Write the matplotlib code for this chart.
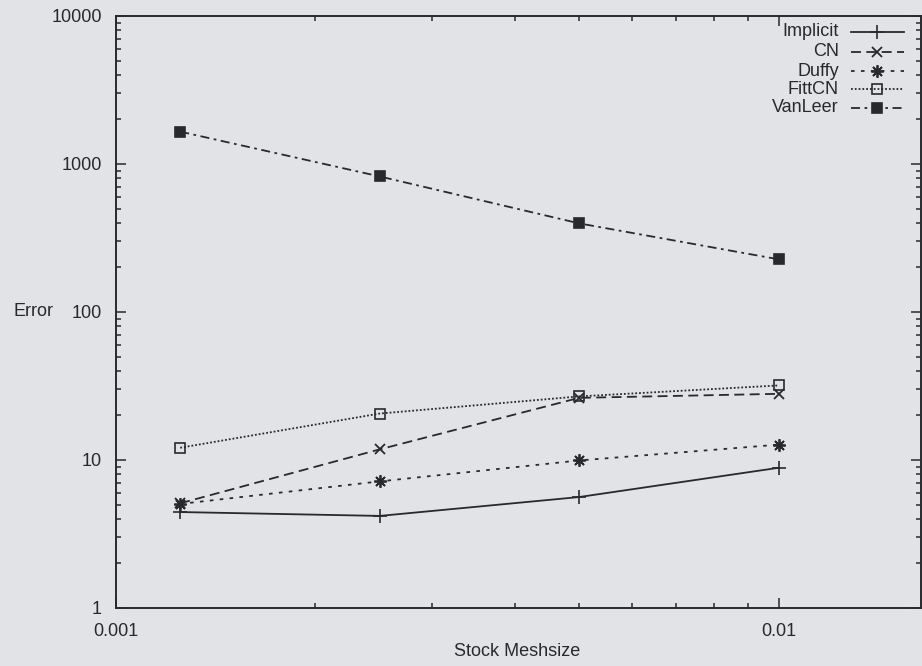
import matplotlib
matplotlib.use("Agg")
import matplotlib.pyplot as plt
from matplotlib.lines import Line2D
from matplotlib.ticker import LogLocator, FixedLocator, NullFormatter

# Stock mesh sizes and error of each scheme
meshsize = [0.00125, 0.0025, 0.005, 0.01]
implicit = [4.45, 4.19, 5.62, 8.86]
cn = [5.1, 11.8, 26.3, 28.0]
duffy = [5.05, 7.17, 9.93, 12.7]
fittcn = [12.1, 20.6, 26.9, 31.9]
vanleer = [1655, 824, 397, 227]

labels = ["Implicit", "CN", "Duffy", "FittCN", "VanLeer"]
series = [implicit, cn, duffy, fittcn, vanleer]

ink = "#29292c"
bg = "#e1e3e6"
plt.rcParams["font.family"] = ["Liberation Sans", "DejaVu Sans"]
plt.rcParams["font.size"] = 13

lw = 1.3
styles = [
    dict(linestyle="-", marker="+", markersize=10, markeredgewidth=1.2,
         markerfacecolor=ink),
    dict(linestyle=(0, (5.5, 3)), marker="x", markersize=7, markeredgewidth=1.3,
         markerfacecolor=ink),
    dict(linestyle=(0, (2, 3.5)), marker=(8, 2, 0), markersize=9,
         markeredgewidth=1.3, markerfacecolor=ink),
    dict(linestyle=(0, (1, 1.1)), marker="s", markersize=7, markeredgewidth=1.2,
         markerfacecolor="none"),
    dict(linestyle=(0, (5, 2.5, 1.5, 2.5)), marker="s", markersize=7,
         markeredgewidth=1.2, markerfacecolor=ink),
]

W, H = 922, 666
fig = plt.figure(figsize=(W / 100, H / 100), dpi=100, facecolor=bg)
left, right, top, bottom = 116, 921, 16, 608
ax = fig.add_axes([left / W, 1 - bottom / H, (right - left) / W, (bottom - top) / H])
ax.set_facecolor(bg)

for ys, st in zip(series, styles):
    ax.plot(meshsize, ys, color=ink, linewidth=lw, markeredgecolor=ink, **st)

ax.set_xscale("log")
ax.set_yscale("log")
ax.set_xlim(0.001, 0.0164)
ax.set_ylim(1, 10000)

ax.xaxis.set_major_locator(FixedLocator([0.001, 0.01]))
ax.xaxis.set_minor_locator(LogLocator(base=10, subs=range(2, 10)))
ax.xaxis.set_minor_formatter(NullFormatter())
ax.set_xticklabels(["0.001", "0.01"])
ax.yaxis.set_major_locator(FixedLocator([1, 10, 100, 1000, 10000]))
ax.yaxis.set_minor_locator(LogLocator(base=10, subs=range(2, 10)))
ax.yaxis.set_minor_formatter(NullFormatter())
ax.set_yticklabels(["1", "10", "100", "1000", "10000"])

ax.tick_params(which="both", direction="in", top=True, right=True,
               color=ink, labelcolor=ink, width=1.1)
ax.tick_params(which="major", length=7, labelsize=13)
ax.tick_params(which="minor", length=3.5)
ax.tick_params(axis="x", which="major", pad=11)
ax.tick_params(axis="y", which="major", pad=10)
for sp in ax.spines.values():
    sp.set_color(ink)
    sp.set_linewidth(1.4)

fig.text(517 / W, 1 - 651 / H, "Stock Meshsize", ha="center", va="center",
         color=ink, fontsize=13)
fig.text(33 / W, 1 - 312 / H, "Error", ha="center", va="center",
         color=ink, fontsize=13)

# key in the upper right corner: label, then a short sample of the line
rows_y = [32, 52, 71, 89, 108]
for lab, st, py in zip(labels, styles, rows_y):
    yf = 1 - py / H
    fig.text(839 / W, yf, lab, ha="right", va="center", color=ink, fontsize=13)
    fig.add_artist(Line2D([851 / W, 904 / W], [yf, yf], transform=fig.transFigure,
                          color=ink, linewidth=lw,
                          linestyle=st["linestyle"]))
    mk = {k: v for k, v in st.items() if k != "linestyle"}
    fig.add_artist(Line2D([877 / W], [yf], transform=fig.transFigure,
                          color=ink, linestyle="none", markeredgecolor=ink, **mk))

fig.savefig("out.png", dpi=100, facecolor=bg)
